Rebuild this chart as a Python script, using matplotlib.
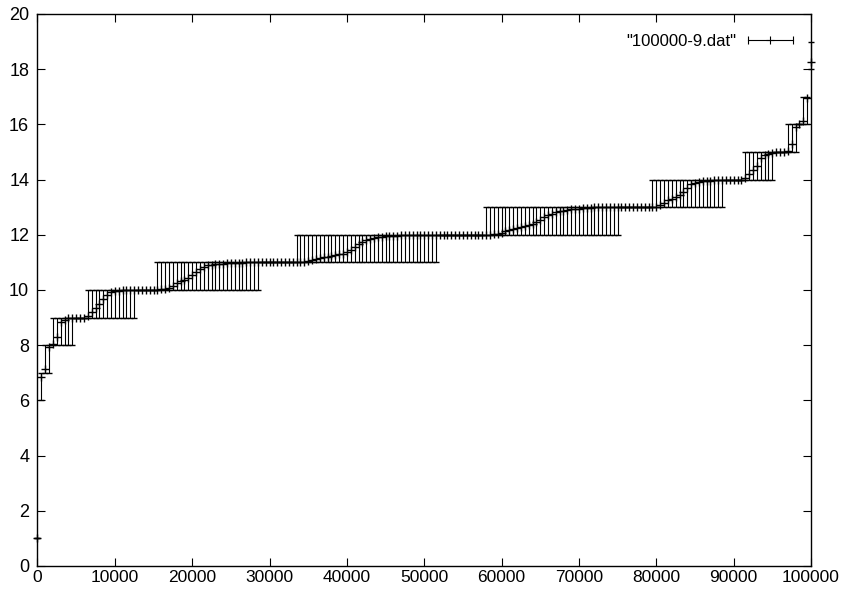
import numpy as np
import matplotlib
matplotlib.use('Agg')
import matplotlib.pyplot as plt
from matplotlib.lines import Line2D
from matplotlib.legend_handler import HandlerBase

plt.rcParams['font.family'] = ['Liberation Sans', 'DejaVu Sans']

# "100000-9.dat": one row every 500 steps, mean value with min / max bars
x_step = 500

mean_vals = [
    1.0, 6.85, 7.15, 7.95, 8.05, 8.30, 8.85, 8.93, 8.97, 8.99,
    9.0, 9.0, 9.0, 9.07, 9.20, 9.33, 9.50, 9.66, 9.83, 9.93,
    9.96, 9.98, 9.99, 9.99, 10.0, 10.0, 10.0, 10.0, 10.0, 10.0,
    10.0, 10.0, 10.02, 10.04, 10.08, 10.15, 10.25, 10.32, 10.38, 10.43,
    10.53, 10.64, 10.75, 10.85, 10.90, 10.92, 10.94, 10.95, 10.96, 10.97,
    10.98, 10.99, 10.99, 10.99, 11.0, 11.0, 11.0, 11.0, 11.0, 11.0,
    11.0, 11.0, 11.0, 11.0, 11.0, 11.0, 11.0, 11.01, 11.02, 11.03,
    11.05, 11.08, 11.12, 11.15, 11.18, 11.20, 11.23, 11.26, 11.29, 11.32,
    11.37, 11.44, 11.54, 11.65, 11.74, 11.80, 11.85, 11.89, 11.91, 11.93,
    11.95, 11.96, 11.97, 11.97, 11.98, 11.99, 11.99, 11.99, 12.0, 12.0,
    12.0, 12.0, 12.0, 12.0, 12.0, 12.0, 12.0, 12.0, 12.0, 12.0,
    12.0, 12.0, 12.0, 12.0, 12.0, 12.0, 12.0, 12.01, 12.02, 12.04,
    12.08, 12.12, 12.17, 12.21, 12.25, 12.29, 12.33, 12.36, 12.40, 12.45,
    12.55, 12.63, 12.70, 12.77, 12.82, 12.86, 12.88, 12.90, 12.92, 12.93,
    12.95, 12.96, 12.97, 12.98, 12.99, 12.99, 13.0, 13.0, 13.0, 13.0,
    13.0, 13.0, 13.0, 13.0, 13.0, 13.0, 13.0, 13.0, 13.0, 13.0,
    13.02, 13.08, 13.17, 13.25, 13.30, 13.37, 13.44, 13.55, 13.70, 13.83,
    13.89, 13.92, 13.94, 13.95, 13.96, 13.97, 13.98, 13.99, 14.0, 14.0,
    14.0, 14.0, 14.0, 14.05, 14.20, 14.35, 14.50, 14.78, 14.88, 14.94,
    14.97, 15.0, 15.0, 15.0, 15.05, 15.30, 15.92, 16.0, 16.12, 16.97,
    18.25,
]

low_vals = [
    1, 6, 7, 7, 8, 8, 8, 8, 8, 8,
    9, 9, 9, 9, 9, 9, 9, 9, 9, 9,
    9, 9, 9, 9, 9, 9, 10, 10, 10, 10,
    10, 10, 10, 10, 10, 10, 10, 10, 10, 10,
    10, 10, 10, 10, 10, 10, 10, 10, 10, 10,
    10, 10, 10, 10, 10, 10, 10, 10, 11, 11,
    11, 11, 11, 11, 11, 11, 11, 11, 11, 11,
    11, 11, 11, 11, 11, 11, 11, 11, 11, 11,
    11, 11, 11, 11, 11, 11, 11, 11, 11, 11,
    11, 11, 11, 11, 11, 11, 11, 11, 11, 11,
    11, 11, 11, 11, 12, 12, 12, 12, 12, 12,
    12, 12, 12, 12, 12, 12, 12, 12, 12, 12,
    12, 12, 12, 12, 12, 12, 12, 12, 12, 12,
    12, 12, 12, 12, 12, 12, 12, 12, 12, 12,
    12, 12, 12, 12, 12, 12, 12, 12, 12, 12,
    12, 13, 13, 13, 13, 13, 13, 13, 13, 13,
    13, 13, 13, 13, 13, 13, 13, 13, 13, 13,
    13, 13, 13, 13, 13, 13, 13, 13, 14, 14,
    14, 14, 14, 14, 14, 14, 14, 14, 14, 14,
    14, 15, 15, 15, 15, 15, 15, 16, 16, 16,
    18,
]

high_vals = [
    1, 7, 8, 8, 9, 9, 9, 9, 9, 9,
    9, 9, 9, 10, 10, 10, 10, 10, 10, 10,
    10, 10, 10, 10, 10, 10, 10, 10, 10, 10,
    10, 11, 11, 11, 11, 11, 11, 11, 11, 11,
    11, 11, 11, 11, 11, 11, 11, 11, 11, 11,
    11, 11, 11, 11, 11, 11, 11, 11, 11, 11,
    11, 11, 11, 11, 11, 11, 11, 12, 12, 12,
    12, 12, 12, 12, 12, 12, 12, 12, 12, 12,
    12, 12, 12, 12, 12, 12, 12, 12, 12, 12,
    12, 12, 12, 12, 12, 12, 12, 12, 12, 12,
    12, 12, 12, 12, 12, 12, 12, 12, 12, 12,
    12, 12, 12, 12, 12, 12, 13, 13, 13, 13,
    13, 13, 13, 13, 13, 13, 13, 13, 13, 13,
    13, 13, 13, 13, 13, 13, 13, 13, 13, 13,
    13, 13, 13, 13, 13, 13, 13, 13, 13, 13,
    13, 13, 13, 13, 13, 13, 13, 13, 13, 14,
    14, 14, 14, 14, 14, 14, 14, 14, 14, 14,
    14, 14, 14, 14, 14, 14, 14, 14, 14, 14,
    14, 14, 14, 15, 15, 15, 15, 15, 15, 15,
    15, 15, 15, 15, 16, 16, 16, 16, 17, 17,
    19,
]

x_ticks = [0, 10000, 20000, 30000, 40000, 50000, 60000, 70000, 80000, 90000, 100000]
y_ticks = [0, 2, 4, 6, 8, 10, 12, 14, 16, 18, 20]
series_label = '"100000-9.dat"'


class ErrKeyHandler(HandlerBase):
    # gnuplot style key sample: horizontal bar with end caps and a + in the middle
    def create_artists(self, legend, orig_handle, xdescent, ydescent,
                       width, height, fontsize, trans):
        x0, x1 = -xdescent, width - xdescent
        y = (height - ydescent) / 2
        bar = Line2D([x0, x1], [y, y], color='k', lw=0.8, transform=trans)
        caps = Line2D([x0, x1], [y, y], ls='none', marker='|', ms=6,
                      mew=0.8, color='k', transform=trans)
        mid = Line2D([(x0 + x1) / 2], [y], ls='none', marker='+', ms=6,
                     mew=0.8, color='k', transform=trans)
        return [bar, caps, mid]


mean_arr = np.array(mean_vals)
x_vals = np.arange(len(mean_arr)) * x_step
yerr = [mean_arr - np.array(low_vals), np.array(high_vals) - mean_arr]

fig = plt.figure(figsize=(8.45, 5.89), dpi=100)
ax = fig.add_axes([37.5 / 845, 23 / 589, 773.5 / 845, 552 / 589])

eb = ax.errorbar(x_vals, mean_arr, yerr=yerr, fmt='+', color='k',
                 ms=6, mew=1.0, elinewidth=0.8, capsize=2.5, capthick=0.9,
                 label=series_label)
for art in eb.lines[0:1] + tuple(eb.lines[1]) + tuple(eb.lines[2]):
    art.set_clip_on(False)

ax.set_xlim(0, 100000)
ax.set_ylim(0, 20)
ax.set_xticks(x_ticks)
ax.set_yticks(y_ticks)
ax.tick_params(direction='in', top=True, right=True, length=6, width=0.8,
               labelsize=13)
ax.tick_params(axis='y', pad=6)
ax.tick_params(axis='x', pad=3, labelsize=12.5)
for lab in ax.get_xticklabels():
    lab.set_family(['Liberation Sans Narrow', 'Liberation Sans'])
for sp in ax.spines.values():
    sp.set_linewidth(1.0)

ax.legend(handles=[eb], labels=[series_label], handler_map={eb: ErrKeyHandler()},
          loc='center right', bbox_to_anchor=(0.9763, 0.951), frameon=False,
          markerfirst=False, fontsize=12, handlelength=2.7, handletextpad=0.7,
          borderpad=0, borderaxespad=0)

fig.savefig('out.png', dpi=100)
